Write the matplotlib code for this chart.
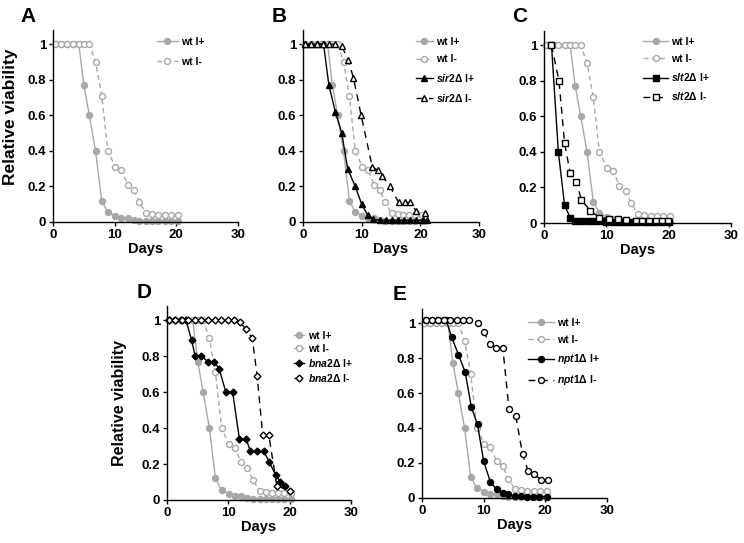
import matplotlib
matplotlib.use("Agg")
from matplotlib import pyplot as plt

plt.rcParams['font.family'] = ['Liberation Sans', 'DejaVu Sans']
plt.rcParams['font.weight'] = 'bold'
plt.rcParams['mathtext.fontset'] = 'custom'
plt.rcParams['mathtext.it'] = 'Liberation Sans:italic:bold'
plt.rcParams['mathtext.rm'] = 'Liberation Sans:bold'

# wild type, shared by all panels
wt_days = [0.3, 1.3, 2.3, 3.3, 4.2, 5.0, 5.9, 6.9, 7.9, 8.9, 10.1, 11.1, 12.1, 13.1, 14.0, 15.1, 16.1, 17.1, 18.1, 19.1, 20.2]
wt_pos = [1, 1, 1, 1, 1, 0.77, 0.60, 0.40, 0.12, 0.055, 0.035, 0.025, 0.02, 0.013, 0.006, 0.005, 0.004, 0.003, 0.003, 0.003, 0.003]
wt_neg = [1, 1, 1, 1, 1, 1, 1, 0.90, 0.71, 0.40, 0.31, 0.29, 0.21, 0.18, 0.11, 0.05, 0.045, 0.04, 0.038, 0.038, 0.038]

# B: sir2
sir2_pos_x = [0.4, 1.4, 2.4, 3.5, 4.4, 5.5, 6.6, 7.6, 8.9, 10.0, 11.0, 12.0, 13.1, 14.1, 15.2, 16.2, 17.2, 18.3, 19.3, 20.5, 21.2]
sir2_pos = [1, 1, 1, 1, 0.77, 0.62, 0.50, 0.30, 0.20, 0.10, 0.04, 0.015, 0.01, 0.01, 0.01, 0.01, 0.01, 0.01, 0.01, 0.01, 0.01]
sir2_neg_x = [0.4, 1.4, 2.4, 3.4, 4.4, 5.4, 6.6, 7.7, 8.6, 9.9, 11.8, 12.8, 13.5, 14.8, 16.3, 17.3, 18.3, 19.3, 20.8]
sir2_neg = [1, 1, 1, 1, 1, 1, 0.99, 0.91, 0.81, 0.60, 0.31, 0.29, 0.26, 0.20, 0.11, 0.11, 0.11, 0.06, 0.05]

# C: slt2
slt2_pos_x = [1.2, 2.3, 3.3, 4.2, 5.0, 6.0, 7.0, 8.0, 9.0, 10.0, 11.0, 12.0, 13.0, 14.0, 15.0, 16.0, 17.0, 18.0, 19.0, 20.0]
slt2_pos = [1, 0.40, 0.10, 0.03, 0.01, 0.01, 0.01, 0.01, 0.01, 0.005, 0.005, 0.005, 0.005, 0.005, 0.005, 0.005, 0.005, 0.005, 0.005, 0.005]
slt2_neg_x = [1.2, 2.4, 3.3, 4.2, 5.2, 6.0, 7.4, 8.9, 10.4, 11.9, 13.2, 14.7, 15.8, 16.8, 17.9, 18.9, 19.9]
slt2_neg = [1.0, 0.80, 0.45, 0.28, 0.23, 0.13, 0.07, 0.03, 0.025, 0.02, 0.015, 0.01, 0.01, 0.01, 0.01, 0.01, 0.01]

# D: bna2
bna2_pos_x = [0.3, 1.3, 2.3, 3.1, 4.0, 4.6, 5.6, 6.7, 7.7, 8.5, 9.6, 10.7, 11.8, 12.9, 13.6, 14.6, 15.8, 16.7, 17.7, 18.5, 19.3]
bna2_pos = [1, 1, 1, 1, 0.89, 0.80, 0.80, 0.77, 0.77, 0.73, 0.60, 0.60, 0.34, 0.34, 0.27, 0.27, 0.27, 0.21, 0.14, 0.10, 0.08]
bna2_neg_x = [0.3, 1.35, 2.4, 3.4, 4.5, 5.6, 6.7, 7.8, 8.8, 9.9, 10.9, 11.9, 12.9, 13.9, 14.7, 15.6, 16.6, 17.9, 20.0]
bna2_neg = [1, 1, 1, 1, 1, 1, 1, 1, 1, 1, 1, 0.99, 0.95, 0.90, 0.69, 0.36, 0.36, 0.08, 0.05]

# E: npt1
npt1_pos_x = [0.6, 1.6, 2.6, 3.6, 3.9, 4.8, 5.9, 7.0, 8.0, 9.0, 10.0, 11.1, 12.1, 13.1, 14.0, 15.0, 16.0, 17.0, 18.0, 19.0, 20.2]
npt1_pos = [1.02, 1.02, 1.02, 1.02, 1.02, 0.92, 0.82, 0.72, 0.52, 0.42, 0.21, 0.09, 0.05, 0.03, 0.02, 0.01, 0.01, 0.008, 0.008, 0.008, 0.008]
npt1_neg_x = [0.6, 1.6, 2.6, 3.6, 4.6, 5.6, 6.6, 7.7, 9.0, 10.0, 11.0, 12.0, 13.1, 14.1, 15.2, 16.3, 17.2, 18.2, 19.3, 20.4]
npt1_neg = [1.02, 1.02, 1.02, 1.02, 1.02, 1.02, 1.02, 1.02, 1.0, 0.95, 0.88, 0.86, 0.86, 0.51, 0.47, 0.25, 0.155, 0.135, 0.105, 0.105]

GRAY = '#a8a8a8'
y_ticks = [0, 0.2, 0.4, 0.6, 0.8, 1]
y_labels = ['0', '0.2', '0.4', '0.6', '0.8', '1']
x_ticks = [0, 10, 20, 30]

fig = plt.figure(figsize=(7.44, 5.43), dpi=100)


def setup(ax, ylabel=None):
    ax.set_xlim(0, 30)
    ax.set_ylim(0, 1.08)
    ax.set_xticks(x_ticks)
    ax.set_yticks(y_ticks)
    ax.set_yticklabels(y_labels)
    for s in ['top', 'right']:
        ax.spines[s].set_visible(False)
    for s in ['left', 'bottom']:
        ax.spines[s].set_linewidth(1.0)
    ax.tick_params(direction='out', length=3, width=1.0, labelsize=9.5, pad=2)
    for lab in ax.get_xticklabels() + ax.get_yticklabels():
        lab.set_fontweight('bold')
    ax.set_xlabel('Days', fontsize=10.5, fontweight='bold', labelpad=1)
    if ylabel:
        size, lx, ly = ylabel
        ax.set_ylabel('Relative viability', fontsize=size, fontweight='bold')
        ax.yaxis.set_label_coords(lx, ly)


def plot_wt(ax):
    ax.plot(wt_days, wt_pos, '-', color=GRAY, lw=1.0, marker='o', ms=4.3,
            mfc=GRAY, mec=GRAY, label='wt l+', clip_on=False)
    ax.plot(wt_days, wt_neg, '--', color=GRAY, lw=1.0, dashes=(3.5, 2.5), marker='o', ms=4.3,
            mfc='white', mec=GRAY, mew=1.0, label='wt l-', clip_on=False)


def plot_mut(ax, xp, yp, xn, yn, marker, name, ms=4.3):
    ax.plot(xp, yp, '-', color='black', lw=1.0, marker=marker, ms=ms,
            mfc='black', mec='black', label=r'$\mathit{%s}$Δ l+' % name, clip_on=False)
    ax.plot(xn, yn, '--', color='black', lw=1.0, dashes=(5, 4), marker=marker, ms=ms,
            mfc='white', mec='black', mew=1.0, label=r'$\mathit{%s}$Δ l-' % name, clip_on=False)


def legend(ax, x, y, hl, spacing):
    ax.legend(loc='upper left', bbox_to_anchor=(x / 744, 1 - y / 543),
              bbox_transform=fig.transFigure, frameon=False,
              handlelength=hl, handletextpad=0.3, labelspacing=spacing,
              borderpad=0, borderaxespad=0, prop={'weight': 'bold', 'size': 7.5})


axA = fig.add_axes([0.0712, 0.5912, 0.2487, 0.3536])
plot_wt(axA)
setup(axA, ylabel=(12.5, -0.19, 0.55))
legend(axA, 157, 37, 2.0, 0.92)

axB = fig.add_axes([0.4073, 0.5912, 0.2366, 0.3536])
plot_wt(axB)
plot_mut(axB, sir2_pos_x, sir2_pos, sir2_neg_x, sir2_neg, '^', 'sir2', ms=4.7)
setup(axB)
legend(axB, 416, 37, 1.6, 0.72)

axC = fig.add_axes([0.7312, 0.5893, 0.2513, 0.3536])
plot_wt(axC)
plot_mut(axC, slt2_pos_x, slt2_pos, slt2_neg_x, slt2_neg, 's', 'slt2', ms=4.1)
setup(axC)
legend(axC, 643, 37, 2.4, 0.68)

axD = fig.add_axes([0.2245, 0.0792, 0.2473, 0.3573])
plot_wt(axD)
plot_mut(axD, bna2_pos_x, bna2_pos, bna2_neg_x, bna2_neg, 'D', 'bna2', ms=3.5)
setup(axD, ylabel=(11.5, -0.215, 0.5))
legend(axD, 294, 331, 1.0, 0.28)

axE = fig.add_axes([0.5672, 0.0829, 0.2487, 0.348])
plot_wt(axE)
plot_mut(axE, npt1_pos_x, npt1_pos, npt1_neg_x, npt1_neg, 'o', 'npt1', ms=4.3)
setup(axE)
legend(axE, 528, 318, 2.5, 0.68)

for letter, x, y in [('A', 20, 22), ('B', 272, 22), ('C', 512, 22), ('D', 137, 298), ('E', 393, 300)]:
    fig.text(x / 744, 1 - y / 543, letter, fontsize=15, fontweight='bold', va='baseline')

fig.savefig('out.png', dpi=100)
